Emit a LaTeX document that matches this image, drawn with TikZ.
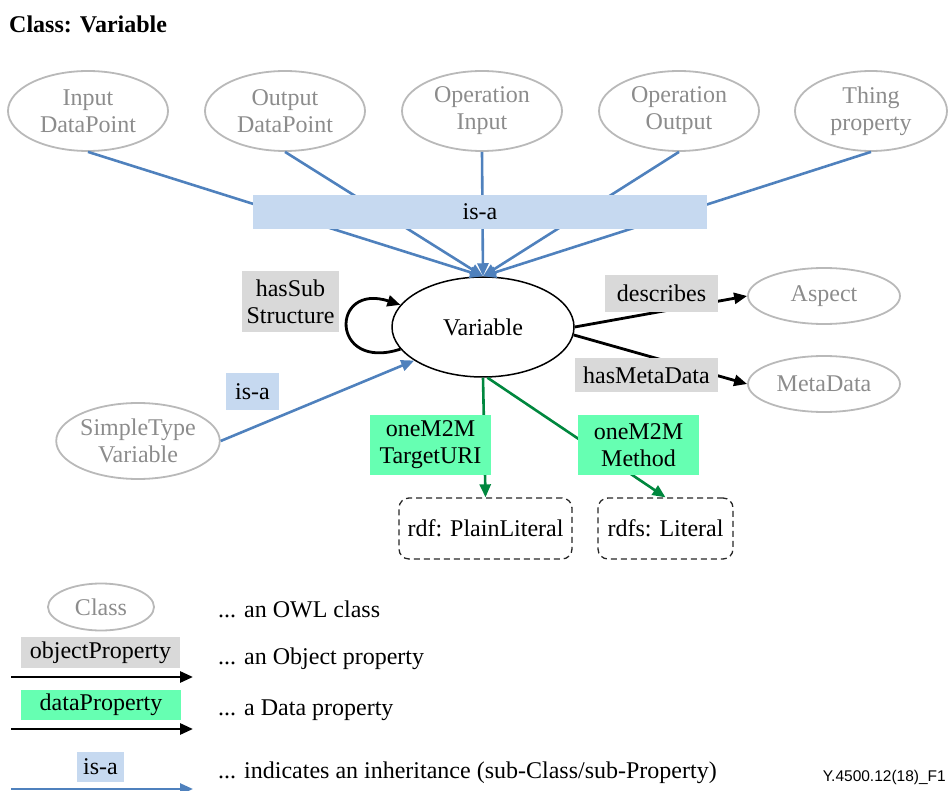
\documentclass[tikz,border=0pt]{standalone}
\usepackage{fontspec}
\setmainfont{Liberation Serif}
\newfontfamily\footfont{Liberation Sans}
\usetikzlibrary{arrows.meta,shapes.geometric}

\definecolor{isablue}{RGB}{79,129,189}
\definecolor{isafill}{RGB}{198,217,240}
\definecolor{objfill}{RGB}{217,217,217}
\definecolor{datafill}{RGB}{102,255,178}
\definecolor{dataline}{RGB}{0,135,62}
\definecolor{clsdraw}{RGB}{185,185,185}
\definecolor{clstext}{RGB}{140,140,140}

\begin{document}
\begin{tikzpicture}[x=1pt,y=-1pt,
  txt/.style={font=\rmfamily\fontsize{24}{27}\selectfont, align=center, inner sep=0pt},
  cls/.style={txt, ellipse, draw=clsdraw, line width=1.8pt, text=clstext,
              minimum width=160pt, minimum height=80pt},
  mainvar/.style={txt, ellipse, draw=black, line width=1.5pt, fill=white,
              minimum width=182pt, minimum height=100pt},
  isalabel/.style={txt, fill=isafill},
  objlabel/.style={txt, fill=objfill},
  datalabel/.style={txt, fill=datafill},
  literal/.style={txt, draw=black!85, line width=1.3pt, dash pattern=on 6pt off 4pt,
              rounded corners=10pt, minimum width=#1, minimum height=61pt},
  legtext/.style={font=\rmfamily\fontsize{24}{27}\selectfont, anchor=west, inner sep=0pt},
  tip/.style={-{Triangle[length=13pt,width=11pt]}},
  isaedge/.style={tip, draw=isablue, line width=2.6pt},
  objedge/.style={tip, draw=black, line width=2.8pt},
  dataedge/.style={tip, draw=dataline, line width=2.6pt},
]
\useasboundingbox (0,0) rectangle (948,791);

% title
\node[anchor=west, inner sep=0pt, font=\rmfamily\fontsize{24}{27}\selectfont\bfseries] (title) at (9,24) {Class: Variable};

% super classes
\node[cls] (indp)  at (88,111)  {Input\\DataPoint};
\node[cls] (outdp) at (285,111) {Output\\DataPoint};
\node[cls] (opin)  at (482,111) {Operation\\Input};
\node[cls] (opout) at (679,111) {Operation\\Output};
\node[cls, minimum width=152pt] (thing) at (871,111) {Thing\\property};

% central class and its neighbours
\node[mainvar] (var) at (483,327) {Variable};
\node[cls, minimum width=152pt, minimum height=56pt] (aspect) at (824,296) {Aspect};
\node[cls, minimum width=152pt, minimum height=56pt] (meta)   at (824,384) {MetaData};
\node[cls, minimum height=76pt] (simple) at (138,441) {SimpleType\\Variable};
\node[literal=173pt] (plain) at (485.5,528.5) {rdf: PlainLiteral};
\node[literal=135pt] (lit)   at (665.5,528.5) {rdfs: Literal};

% inheritance edges
\foreach \c in {indp,outdp,opin,opout,thing}
  \draw[isaedge] (\c.south) -- (var.north);
\draw[isaedge] (simple.east) -- (var.206);

% object properties
\draw[objedge] (var.195) .. controls (330,372) and (330,282) .. (var.165);
\draw[objedge] (var.east) -- (aspect.west);
\draw[objedge] (var.-5) -- (meta.west);

% data properties
\draw[dataedge] (var.south) -- (plain.north);
\draw[dataedge] (var.-85) -- (lit.north);

% edge labels
\node[isalabel, minimum width=454pt, minimum height=34pt] (isatop) at (480,212) {is-a};
\node[isalabel, minimum width=53pt, minimum height=37pt] (isaside) at (252.5,391.5) {is-a};
\node[objlabel, minimum width=97pt, minimum height=61pt] (hassub) at (290.5,301.5) {hasSub\\Structure};
\node[objlabel, minimum width=113pt, minimum height=37pt] (describes) at (661.5,293.5) {describes};
\node[objlabel, minimum width=143pt, minimum height=34pt] (hasmeta) at (646.5,375) {hasMetaData};
\node[datalabel, minimum width=121pt, minimum height=60pt] (target) at (430.5,445) {oneM2M\\TargetURI};
\node[datalabel, minimum width=121pt, minimum height=60pt] (method) at (638.5,445) {oneM2M\\Method};

% legend
\node[cls, minimum width=106pt, minimum height=47pt] (legcls) at (101,607) {Class};
\node[legtext] (legclst) at (218,609) {... an OWL class};

\node[objlabel, minimum width=159pt, minimum height=31pt] (legobj) at (100.5,652.5) {objectProperty};
\coordinate (legobja) at (11,677);
\coordinate (legobjb) at (193,677);
\draw[objedge] (legobja) -- (legobjb);
\node[legtext] (legobjt) at (218,659) {... an Object property};

\node[datalabel, minimum width=160pt, minimum height=30pt] (legdata) at (101,705) {dataProperty};
\coordinate (legdataa) at (11,729);
\coordinate (legdatab) at (193,729);
\draw[objedge] (legdataa) -- (legdatab);
\node[legtext] (legdatat) at (218,710) {... a Data property};

\node[isalabel, minimum width=47pt, minimum height=30pt] (legisa) at (100.5,767) {is-a};
\coordinate (legisaa) at (11,789);
\coordinate (legisab) at (193,789);
\draw[isaedge] (legisaa) -- (legisab);
\node[legtext] (legisat) at (218,773) {... indicates an inheritance (sub-Class/sub-Property)};

% figure number
\node[anchor=east, inner sep=0pt, font=\footfont\fontsize{15.5}{18}\selectfont] (fignum) at (946,777) {Y.4500.12(18)\_F1};
\end{tikzpicture}
\end{document}
